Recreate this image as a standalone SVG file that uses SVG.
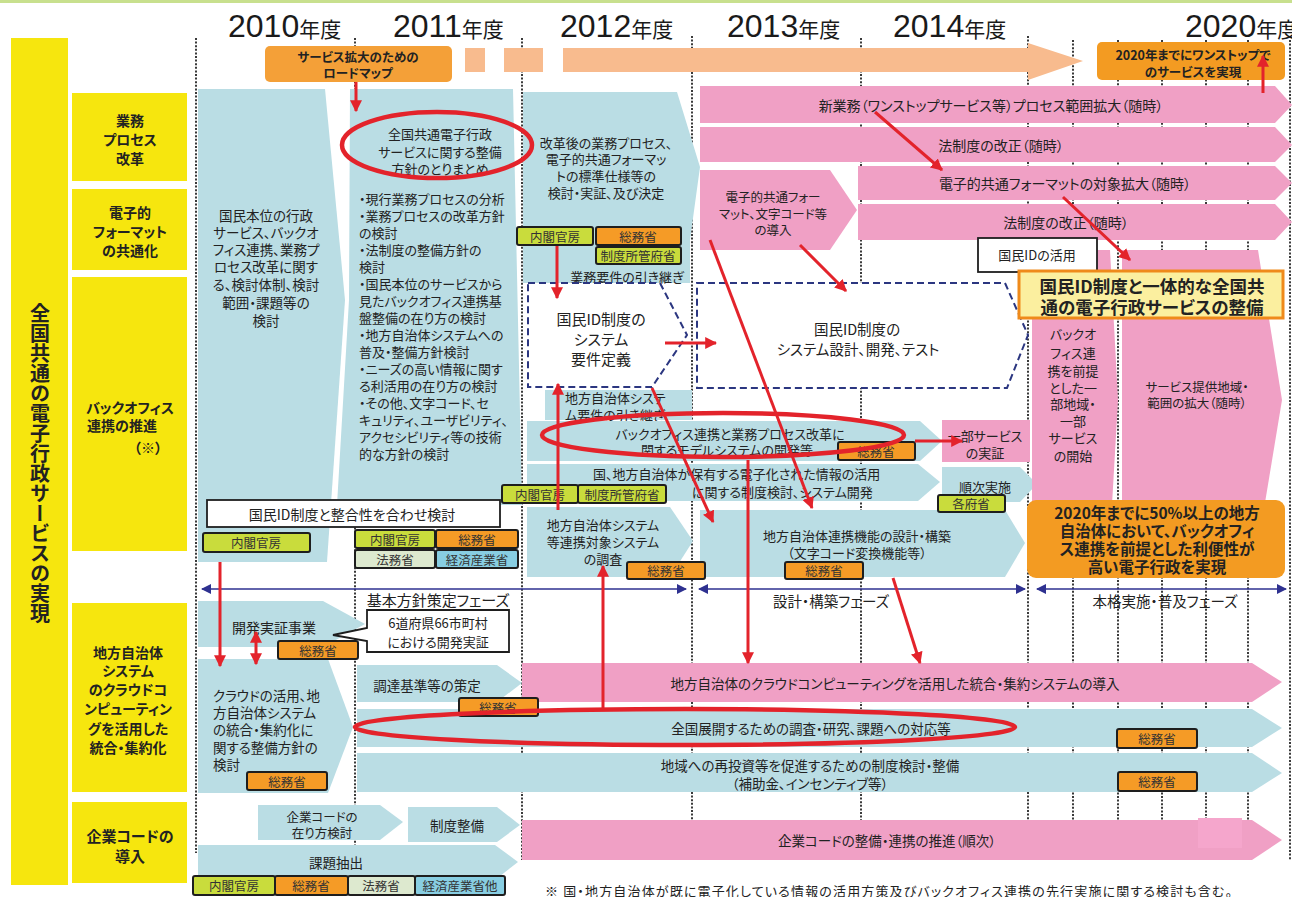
<svg xmlns="http://www.w3.org/2000/svg" width="1292" height="897" viewBox="0 0 1292 897" font-size="13">
<defs>
<style>
text{font-family:"Noto Sans CJK JP","Noto Sans CJK SC","Noto Sans",sans-serif;fill:#222;dominant-baseline:central;text-anchor:middle;font-feature-settings:"palt"}
.l{text-anchor:start}
.b{font-weight:bold}
.yr{font-family:"Liberation Sans","Noto Sans CJK JP",sans-serif;text-anchor:start;dominant-baseline:alphabetic;fill:#1a1a1a;font-feature-settings:normal}
.cat{fill:#f6e60e}
.bl{fill:#badde4}
.pk{fill:#f0a0c5}
.dot{stroke:#3a3a3a;stroke-width:2;stroke-dasharray:2 1.6;fill:none}
.lb rect{stroke:#1e1e1e;stroke-width:2}
.yg{fill:#c9dc3c}
.or{fill:#f59b26}
.pg{fill:#dde9cf}
.cy{fill:#88cee2}
.lb text{font-size:12.5px;fill:#333}
.ds{fill:#fff;stroke:#2b3680;stroke-width:2;stroke-dasharray:7 4}
.ra{stroke:#e3232b;stroke-width:3;fill:none}
.el{stroke:#e3232b;stroke-width:4.5;fill:none}
.ph{stroke:#2e3190;stroke-width:1.5}
.wb{fill:#fff;stroke:#1e1e1e;stroke-width:1.8}
</style>
<marker id="ah" viewBox="0 0 10 10" refX="9" refY="5" markerWidth="12" markerHeight="12" markerUnits="userSpaceOnUse" orient="auto-start-reverse"><path d="M0,0L10,5L0,10z" fill="#e3232b"/></marker>
<marker id="nh" viewBox="0 0 10 10" refX="9" refY="5" markerWidth="12" markerHeight="10" markerUnits="userSpaceOnUse" orient="auto-start-reverse"><path d="M0,0L10,5L0,10z" fill="#2e3190"/></marker>
</defs>
<rect width="1292" height="897" fill="#fff"/>
<rect x="0" y="0" width="1292" height="3" fill="#c8e08e"/>

<g id="grid">
<line class="dot" x1="196" y1="38" x2="196" y2="853"/>
<line class="dot" x1="355" y1="38" x2="355" y2="860"/>
<line class="dot" x1="522" y1="38" x2="522" y2="860"/>
<line class="dot" x1="692" y1="36" x2="692" y2="860"/>
<line class="dot" x1="861" y1="38" x2="861" y2="860"/>
<line class="dot" x1="1028" y1="36" x2="1028" y2="860"/>
<line class="dot" x1="1073" y1="40" x2="1073" y2="860"/>
<line class="dot" x1="1118" y1="40" x2="1118" y2="860"/>
<line class="dot" x1="1162" y1="40" x2="1162" y2="860"/>
<line class="dot" x1="1206" y1="40" x2="1206" y2="860"/>
<line class="dot" x1="1248" y1="40" x2="1248" y2="860"/>
<line class="dot" x1="1290" y1="40" x2="1290" y2="860"/>
</g>

<g id="years">
<text class="yr" x="228" y="37"><tspan font-size="32">2010</tspan><tspan font-size="21">年度</tspan></text>
<text class="yr" x="393" y="37"><tspan font-size="32">2011</tspan><tspan font-size="21">年度</tspan></text>
<text class="yr" x="560" y="37"><tspan font-size="32">2012</tspan><tspan font-size="21">年度</tspan></text>
<text class="yr" x="727" y="37"><tspan font-size="32">2013</tspan><tspan font-size="21">年度</tspan></text>
<text class="yr" x="893" y="37"><tspan font-size="32">2014</tspan><tspan font-size="21">年度</tspan></text>
<text class="yr" x="1185" y="37"><tspan font-size="32">2020</tspan><tspan font-size="21">年度</tspan></text>
</g>

<g id="title">
<rect class="cat" x="11" y="38" width="57" height="847"/>
<text class="b" x="40" y="463" font-size="20" style="writing-mode:vertical-rl">全国共通の電子行政サービスの実現</text>
</g>
<g id="cat-gyomu"><rect class="cat" x="72" y="93" width="115" height="88"/>
<text class="b" font-size="14" x="130" y="120">業務</text><text class="b" font-size="14" x="130" y="139">プロセス</text><text class="b" font-size="14" x="130" y="158">改革</text></g>
<g id="cat-format"><rect class="cat" x="72" y="189" width="115" height="81"/>
<text class="b" font-size="14" x="130" y="212">電子的</text><text class="b" font-size="14" x="130" y="231">フォーマット</text><text class="b" font-size="14" x="130" y="250">の共通化</text></g>
<g id="cat-backoffice"><rect class="cat" x="72" y="277" width="115" height="274"/>
<text class="b" font-size="14" x="130" y="407">バックオフィス</text><text class="b" font-size="14" x="122" y="425">連携の推進</text><text class="b" font-size="14" x="148" y="447">（※）</text></g>
<g id="cat-cloud"><rect class="cat" x="72" y="603" width="115" height="189"/>
<text class="b" font-size="14" x="128" y="652">地方自治体</text><text class="b" font-size="14" x="128" y="670">システム</text><text class="b" font-size="14" x="128" y="689">のクラウドコ</text><text class="b" font-size="14" x="128" y="708">ンピューティン</text><text class="b" font-size="14" x="128" y="728">グを活用した</text><text class="b" font-size="14" x="128" y="747">統合・集約化</text></g>
<g id="cat-code"><rect class="cat" x="72" y="802" width="115" height="81"/>
<text class="b" font-size="15" x="130" y="835">企業コードの</text><text class="b" font-size="15" x="130" y="855">導入</text></g>

<g id="roadmap">
<rect x="465" y="48" width="20" height="24" fill="#f8bb8e"/>
<rect x="504" y="48" width="39" height="24" fill="#f8bb8e"/>
<path d="M563,48H1028V43L1083,61L1028,80V72H563Z" fill="#f8bb8e"/>
<rect x="265" y="46" width="187" height="36" rx="5" fill="#f4a038"/>
<text class="b" font-size="12.5" x="358" y="56.5">サービス拡大のための</text>
<text class="b" font-size="12.5" x="358" y="72.5">ロードマップ</text>
</g>
<g id="goal-onestop">
<rect x="1097" y="42" width="188" height="38" rx="5" fill="#f39b22"/>
<text class="b" font-size="12.5" x="1193" y="54">2020年までにワンストップで</text>
<text class="b" font-size="12.5" x="1193" y="71">のサービスを実現</text>
</g>

<g id="n2010"><polygon class="bl" points="198,89 325,89 345,300 327,562 198,562"/>
<text font-size="13.5" x="266" y="215">国民本位の行政</text><text font-size="13.5" x="266" y="232">サービス、バックオ</text><text font-size="13.5" x="266" y="249">フィス連携、業務プ</text><text font-size="13.5" x="266" y="266">ロセス改革に関す</text><text font-size="13.5" x="266" y="284">る、検討体制、検討</text><text font-size="13.5" x="266" y="302">範囲・課題等の</text><text font-size="13.5" x="266" y="320">検討</text></g>

<g id="n2011"><polygon class="bl" points="350,89 513,89 522,505 337,505 349,300"/>
<text x="440" y="133">全国共通電子行政</text><text x="440" y="151">サービスに関する整備</text><text x="440" y="168">方針のとりまとめ</text>
<text class="l" x="359" y="198">・現行業務プロセスの分析</text>
<text class="l" x="359" y="215.5">・業務プロセスの改革方針</text>
<text class="l" x="359" y="232.5">の検討</text>
<text class="l" x="359" y="249.5">・法制度の整備方針の</text>
<text class="l" x="359" y="266.5">検討</text>
<text class="l" x="359" y="283.5">・国民本位のサービスから</text>
<text class="l" x="359" y="300.5">見たバックオフィス連携基</text>
<text class="l" x="359" y="317.5">盤整備の在り方の検討</text>
<text class="l" x="359" y="334.5">・地方自治体システムへの</text>
<text class="l" x="359" y="351.5">普及・整備方針検討</text>
<text class="l" x="359" y="368.5">・ニーズの高い情報に関す</text>
<text class="l" x="359" y="385.5">る利活用の在り方の検討</text>
<text class="l" x="359" y="402.5">・その他、文字コード、セ</text>
<text class="l" x="359" y="419.5">キュリティ、ユーザビリティ、</text>
<text class="l" x="359" y="436.5">アクセシビリティ等の技術</text>
<text class="l" x="359" y="453.5">的な方針の検討</text></g>

<g id="n2012-std"><polygon class="bl" points="523,92 677,92 700,167 690,240 690,283 523,283"/>
<text x="606" y="142">改革後の業務プロセス、</text><text x="606" y="158">電子的共通フォーマッ</text><text x="606" y="175">トの標準仕様等の</text><text x="606" y="192">検討・実証、及び決定</text>
<text x="627" y="276">業務要件の引き継ぎ</text></g>

<g id="n-req"><rect class="bl" x="545" y="390" width="147" height="30"/>
<text class="l" x="565" y="397">地方自治体システ</text><text class="l" x="565" y="414">ム要件の引き継ぎ</text></g>

<g id="n-model"><polygon class="bl" points="527,421 920,421 942,441 920,461 527,461"/>
<text x="730" y="433">バックオフィス連携と業務プロセス改革に</text><text x="727" y="449">関するモデルシステムの開発等</text></g>
<g id="n-info"><polygon class="bl" points="527,464 918,464 940,482 918,501 527,501"/>
<text class="l" x="593" y="473">国、地方自治体が保有する電子化された情報の活用</text><text class="l" x="692" y="491">に関する制度検討、システム開発</text></g>
<g id="n-survey"><polygon class="bl" points="527,507 670,507 693,541 670,577 527,577"/>
<text x="603" y="524">地方自治体システム</text><text x="603" y="541">等連携対象システム</text><text x="603" y="558">の調査</text></g>
<g id="n-link"><polygon class="bl" points="700,510 1005,510 1025,543 1005,577 700,577"/>
<text x="857" y="535">地方自治体連携機能の設計・構築</text><text x="857" y="552">（文字コード変換機能等）</text></g>
<g id="n-seq"><polygon class="bl" points="942,467 1020,467 1037,484 1020,502 942,502"/>
<text x="985" y="486">順次実施</text></g>

<g id="n-newbiz"><polygon class="pk" points="700,86 1275,86 1292,105 1275,123 700,123"/><text font-size="14" x="991" y="105">新業務（ワンストップサービス等）プロセス範囲拡大（随時）</text></g>
<g id="n-law1"><polygon class="pk" points="700,127 1275,127 1292,145 1275,162 700,162"/><text font-size="14" x="1001" y="145">法制度の改正（随時）</text></g>
<g id="n-fmt"><polygon class="pk" points="700,170 830,170 857,210 830,250 700,250"/>
<text font-size="12.5" x="773" y="196">電子的共通フォー</text><text font-size="12.5" x="773" y="213">マット、文字コード等</text><text font-size="12.5" x="773" y="229">の導入</text></g>
<g id="n-fmtx"><polygon class="pk" points="858,166 1275,166 1292,183 1275,200 858,200"/><text font-size="14" x="1065" y="183">電子的共通フォーマットの対象拡大（随時）</text></g>
<g id="n-law2"><polygon class="pk" points="858,204 1275,204 1292,222 1275,240 858,240"/><text font-size="14" x="1066" y="222">法制度の改正（随時）</text></g>

<g id="n-idreq"><polygon class="ds" points="528,283 660,283 687,335 652,387 528,387"/>
<text font-size="15" x="601" y="318">国民ID制度の</text><text font-size="15" x="601" y="338">システム</text><text font-size="15" x="601" y="358">要件定義</text></g>
<g id="n-iddev"><polygon class="ds" points="697,283 1005,283 1028,335 1007,388 697,388"/>
<text font-size="14.5" x="857" y="328">国民ID制度の</text><text font-size="14.5" x="858" y="348">システム設計、開発、テスト</text></g>

<g id="n-partial"><rect class="pk" x="942" y="420" width="88" height="42"/>
<text x="985" y="435">一部サービス</text><text x="985" y="452">の実証</text></g>
<g id="n-start"><polygon class="pk" points="1032,250 1110,250 1118,400 1110,540 1032,540"/>
<text x="1073" y="333">バックオ</text><text x="1073" y="352">フィス連</text><text x="1073" y="370">携を前提</text><text x="1073" y="387">とした一</text><text x="1073" y="403">部地域・</text><text x="1073" y="420">一部</text><text x="1073" y="437">サービス</text><text x="1073" y="455">の開始</text></g>
<g id="n-expand"><polygon class="pk" points="1122,250 1258,250 1282,400 1258,545 1122,545"/>
<text font-size="12.5" x="1197" y="386">サービス提供地域・</text><text font-size="12.5" x="1197" y="402">範囲の拡大（随時）</text></g>

<g id="n-idutil"><rect class="wb" x="978" y="238" width="119" height="34"/><text x="1037" y="254">国民IDの活用</text></g>
<g id="n-idegov"><rect x="1019" y="271" width="264" height="47" fill="#fbef9f" stroke="#ef8a1a" stroke-width="3"/>
<text class="b" font-size="17.5" x="1152" y="285">国民ID制度と一体的な全国共</text><text class="b" font-size="17.5" x="1152" y="306">通の電子行政サービスの整備</text></g>
<g id="goal-50"><rect x="1027" y="500" width="258" height="78" rx="9" fill="#f39b22"/>
<text class="b" font-size="15.5" x="1157" y="512">2020年までに50%以上の地方</text><text class="b" font-size="15.5" x="1157" y="530">自治体において、バックオフィ</text><text class="b" font-size="15.5" x="1157" y="548">ス連携を前提とした利便性が</text><text class="b" font-size="15.5" x="1157" y="566">高い電子行政を実現</text></g>

<g id="n-idconsist"><rect class="wb" x="207" y="500" width="293" height="27"/><text font-size="14" x="352" y="514">国民ID制度と整合性を合わせ検討</text></g>

<g id="n-pilot"><polygon class="bl" points="198,601 323,601 365,624 323,647 198,647"/><text font-size="14" x="274" y="627">開発実証事業</text></g>
<g id="n-pilot66"><path class="wb" d="M367,610H509V652H367V641L333,635L367,628Z"/><text x="438" y="622">6道府県66市町村</text><text x="438" y="641">における開発実証</text></g>
<g id="n-cloudplan"><polygon class="bl" points="198,659 328,659 353,727 328,793 198,793"/>
<text class="l" font-size="13.5" x="213" y="695">クラウドの活用、地</text><text class="l" font-size="13.5" x="213" y="712">方自治体システム</text><text class="l" font-size="13.5" x="213" y="729">の統合・集約化に</text><text class="l" font-size="13.5" x="213" y="747">関する整備方針の</text><text class="l" font-size="13.5" x="213" y="764">検討</text></g>
<g id="n-procure"><polygon class="bl" points="357,665 497,665 522,683 497,702 357,702"/><text font-size="13.5" x="427" y="685">調達基準等の策定</text></g>
<g id="n-cloudintro"><polygon class="pk" points="522,663 1252,663 1282,682 1252,702 522,702"/><text font-size="13.5" x="895" y="683">地方自治体のクラウドコンピューティングを活用した統合・集約システムの導入</text></g>
<g id="n-nation"><polygon class="bl" points="357,709 1252,709 1282,728 1252,747 357,747"/><text font-size="13.5" x="811" y="728">全国展開するための調査・研究、課題への対応等</text></g>
<g id="n-reinvest"><polygon class="bl" points="357,753 1252,753 1282,773 1252,792 357,792"/><text font-size="13.5" x="810" y="765">地域への再投資等を促進するための制度検討・整備</text><text font-size="13.5" x="810" y="783">（補助金、インセンティブ等）</text></g>
<g id="n-codeplan"><polygon class="bl" points="258,805 380,805 403,822 380,840 258,840"/><text font-size="12.5" x="322" y="816">企業コードの</text><text font-size="12.5" x="322" y="832">在り方検討</text></g>
<g id="n-codesys"><polygon class="bl" points="408,807 497,807 520,825 497,842 408,842"/><text font-size="13.5" x="457" y="825">制度整備</text></g>
<g id="n-codepromo"><polygon class="pk" points="522,820 1252,820 1282,840 1252,860 522,860"/><rect x="1198" y="818" width="44" height="30" fill="#f5a6cc"/><text font-size="13.5" x="887" y="840">企業コードの整備・連携の推進（順次）</text></g>
<g id="n-issue"><polygon class="bl" points="198,845 495,845 518,862 495,880 198,880"/><text font-size="13.5" x="336" y="862">課題抽出</text></g>

<g id="labels" class="lb">
<rect class="yg" x="517" y="227" width="76" height="18" rx="2"/><text x="555" y="236">内閣官房</text>
<rect class="or" x="596" y="227" width="85" height="18" rx="2"/><text x="638" y="236">総務省</text>
<rect class="yg" x="596" y="247" width="85" height="17" rx="2"/><text x="638" y="255.5">制度所管府省</text>
<rect class="yg" x="502" y="485" width="76" height="18" rx="2"/><text x="540" y="494">内閣官房</text>
<rect class="yg" x="578" y="485" width="88" height="18" rx="2"/><text x="622" y="494">制度所管府省</text>
<rect class="or" x="838" y="442" width="77" height="18" rx="2"/><text x="876" y="451">総務省</text>
<rect class="yg" x="938" y="495" width="67" height="17" rx="2"/><text x="971" y="503.5">各府省</text>
<rect class="yg" x="203" y="533" width="107" height="19" rx="2"/><text x="256" y="542.5">内閣官房</text>
<rect class="yg" x="355" y="530" width="80" height="18" rx="2"/><text x="395" y="539">内閣官房</text>
<rect class="or" x="436" y="530" width="82" height="18" rx="2"/><text x="477" y="539">総務省</text>
<rect class="pg" x="355" y="550" width="80" height="18" rx="2"/><text x="395" y="559">法務省</text>
<rect class="cy" x="436" y="550" width="82" height="18" rx="2"/><text x="477" y="559">経済産業省</text>
<rect class="or" x="627" y="562" width="78" height="17" rx="2"/><text x="666" y="570.5">総務省</text>
<rect class="or" x="785" y="562" width="78" height="17" rx="2"/><text x="824" y="570.5">総務省</text>
<rect class="or" x="278" y="641" width="80" height="18" rx="2"/><text x="318" y="650">総務省</text>
<rect class="or" x="247" y="772" width="80" height="18" rx="2"/><text x="287" y="781">総務省</text>
<rect class="or" x="459" y="698" width="79" height="18" rx="2"/><text x="498" y="707">総務省</text>
<rect class="or" x="1117" y="729" width="80" height="19" rx="2"/><text x="1157" y="738.5">総務省</text>
<rect class="or" x="1118" y="772" width="79" height="19" rx="2"/><text x="1157" y="781.5">総務省</text>
<rect class="yg" x="193" y="876" width="82" height="19" rx="2"/><text x="234" y="885.5">内閣官房</text>
<rect class="or" x="275" y="876" width="73" height="19" rx="2"/><text x="311" y="885.5">総務省</text>
<rect class="pg" x="348" y="876" width="67" height="19" rx="2"/><text x="381" y="885.5">法務省</text>
<rect class="cy" x="415" y="876" width="90" height="19" rx="2"/><text x="460" y="885.5">経済産業省他</text>
</g>

<g id="phases">
<line class="ph" x1="202" y1="589" x2="686" y2="589" marker-start="url(#nh)" marker-end="url(#nh)"/>
<line class="ph" x1="699" y1="589" x2="1025" y2="589" marker-start="url(#nh)" marker-end="url(#nh)"/>
<line class="ph" x1="1037" y1="589" x2="1286" y2="589" marker-start="url(#nh)" marker-end="url(#nh)"/>
<text font-size="15" x="438" y="599">基本方針策定フェーズ</text>
<text font-size="14.5" x="831" y="600">設計・構築フェーズ</text>
<text font-size="14.5" x="1165" y="600">本格実施・普及フェーズ</text>
</g>

<g id="connectors">
<line class="ra" x1="356" y1="82" x2="356" y2="111" marker-end="url(#ah)"/>
<line class="ra" x1="557" y1="246" x2="557" y2="298" marker-end="url(#ah)"/>
<line class="ra" x1="558" y1="510" x2="558" y2="384" marker-end="url(#ah)"/>
<line class="ra" x1="665" y1="343" x2="716" y2="343" marker-end="url(#ah)"/>
<line class="ra" x1="652" y1="388" x2="713" y2="522" marker-end="url(#ah)"/>
<line class="ra" x1="710" y1="240" x2="812" y2="508" marker-end="url(#ah)"/>
<line class="ra" x1="800" y1="245" x2="846" y2="291" marker-end="url(#ah)"/>
<line class="ra" x1="875" y1="112" x2="942" y2="170" marker-end="url(#ah)"/>
<line class="ra" x1="1063" y1="197" x2="1130" y2="260" marker-end="url(#ah)"/>
<line class="ra" x1="1263" y1="93" x2="1263" y2="56" marker-end="url(#ah)"/>
<line class="ra" x1="915" y1="441" x2="962" y2="441" marker-end="url(#ah)"/>
<line class="ra" x1="748" y1="460" x2="748" y2="663" marker-end="url(#ah)"/>
<line class="ra" x1="603" y1="708" x2="603" y2="566" marker-end="url(#ah)"/>
<line class="ra" x1="893" y1="578" x2="920" y2="663" marker-end="url(#ah)"/>
<line class="ra" x1="220" y1="562" x2="220" y2="666" marker-end="url(#ah)"/>
<line class="ra" x1="256" y1="632" x2="256" y2="664" marker-start="url(#ah)" marker-end="url(#ah)"/>
<ellipse class="el" cx="437" cy="145" rx="95" ry="33"/>
<ellipse class="el" cx="723" cy="435" rx="181" ry="22"/>
<ellipse class="el" cx="685" cy="727" rx="330" ry="18"/>
</g>

<text class="l" font-size="13" x="545" y="890" textLength="687" lengthAdjust="spacing">※ 国・地方自治体が既に電子化している情報の活用方策及びバックオフィス連携の先行実施に関する検討も含む。</text>
</svg>
